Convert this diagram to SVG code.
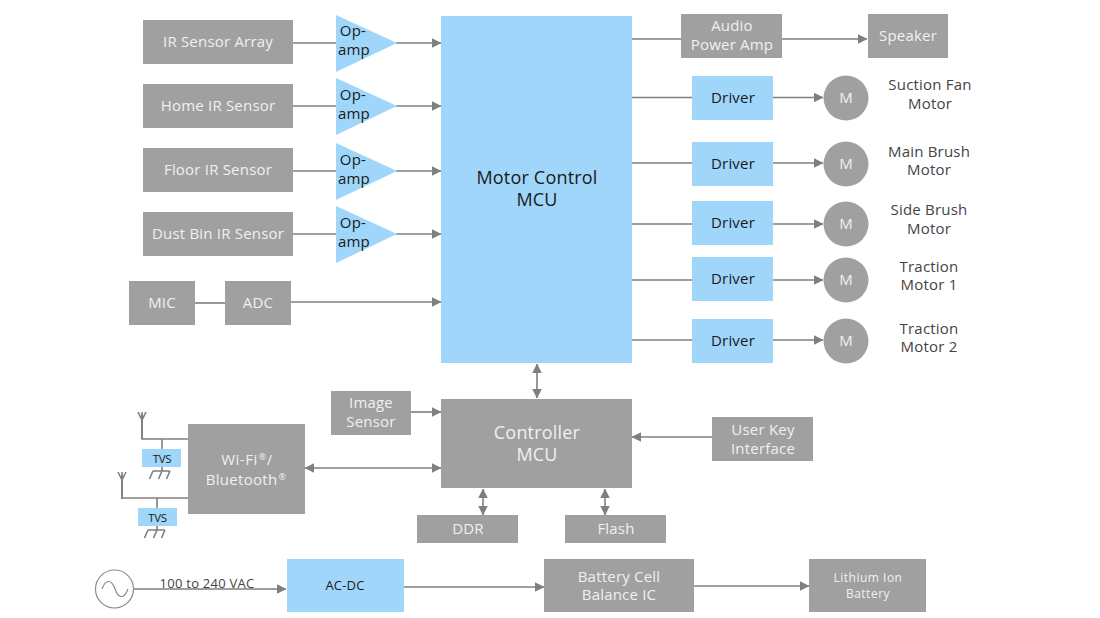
<svg xmlns="http://www.w3.org/2000/svg" width="1100" height="618" viewBox="0 0 1100 618">
<style>
text{font-family:"Open Sans","Noto Sans","Liberation Sans",sans-serif;text-anchor:middle;letter-spacing:.2px}
.g{fill:#a0a0a0}.b{fill:#9fd6fa}
.gt{fill:#f0f0f0;font-size:15px}.bt{fill:#1a1a1a;font-size:15px}.dt{fill:#444;font-size:15px}
.c{stroke:#7f7f7f;stroke-width:1.6;fill:none}
</style>
<defs>
<marker id="a" viewBox="0 0 10 10" refX="9.5" refY="5" markerWidth="9.500" markerHeight="9.500" markerUnits="userSpaceOnUse" orient="auto-start-reverse"><path d="M0 0L10 5L0 10Z" fill="#7f7f7f"/></marker>
<g id="gnd"><path class="c" d="M0 0V4M-9 4H8M-9 4L-12.500 12M0 4L-3.500 12M8 4L4.500 12" stroke-width="1.300"/></g>
<g id="ant"><path class="c" d="M0 0V-27M-4 -27L0 -19L4 -27"/></g>
</defs>
<g id="connectors">
<path class="c" d="M293 43H337"/><path class="c" d="M396 43H441" marker-end="url(#a)"/>
<path class="c" d="M293 106H337"/><path class="c" d="M396 106H441" marker-end="url(#a)"/>
<path class="c" d="M293 171H337"/><path class="c" d="M396 171H441" marker-end="url(#a)"/>
<path class="c" d="M293 234H337"/><path class="c" d="M396 234H441" marker-end="url(#a)"/>
<path class="c" d="M195 303H225"/><path class="c" d="M291 302H441" marker-end="url(#a)"/>
<path class="c" d="M632 39H681"/><path class="c" d="M782 39H867" marker-end="url(#a)"/>
<path class="c" d="M632 97.500H692"/><path class="c" d="M773 97.500H823" marker-end="url(#a)"/>
<path class="c" d="M632 163H692"/><path class="c" d="M773 163H823" marker-end="url(#a)"/>
<path class="c" d="M632 224H692"/><path class="c" d="M773 224H823" marker-end="url(#a)"/>
<path class="c" d="M632 280H692"/><path class="c" d="M773 280H823" marker-end="url(#a)"/>
<path class="c" d="M632 340H692"/><path class="c" d="M773 340H823" marker-end="url(#a)"/>
<path class="c" d="M537 364V398" marker-start="url(#a)" marker-end="url(#a)"/>
<path class="c" d="M411 412H441" marker-end="url(#a)"/>
<path class="c" d="M712 437H632" marker-end="url(#a)"/>
<path class="c" d="M305 468H441" marker-start="url(#a)" marker-end="url(#a)"/>
<path class="c" d="M483 489V515" marker-start="url(#a)" marker-end="url(#a)"/>
<path class="c" d="M605 489V515" marker-start="url(#a)" marker-end="url(#a)"/>
<path class="c" d="M134 589H286" marker-end="url(#a)"/>
<path class="c" d="M404 587H544" marker-end="url(#a)"/>
<path class="c" d="M694 586H809" marker-end="url(#a)"/>
<path class="c" d="M188 439H142V414"/><path class="c" d="M162 439V449"/>
<path class="c" d="M188 498H122V475"/><path class="c" d="M157 498V508"/>
<use href="#ant" x="142" y="439"/><use href="#ant" x="122" y="499"/>
<use href="#gnd" x="162" y="467"/><use href="#gnd" x="157" y="526"/>
</g>
<g id="ir-array"><rect class="g" x="143" y="20" width="150" height="44"/><text class="gt" x="218" y="47">IR Sensor Array</text></g>
<g id="home-ir"><rect class="g" x="143" y="84" width="150" height="44"/><text class="gt" x="218" y="111">Home IR Sensor</text></g>
<g id="floor-ir"><rect class="g" x="143" y="148" width="150" height="44"/><text class="gt" x="218" y="175">Floor IR Sensor</text></g>
<g id="dust-ir"><rect class="g" x="143" y="212" width="150" height="44"/><text class="gt" x="218" y="239">Dust Bin IR Sensor</text></g>
<g id="opamp1"><path class="b" d="M336 15L397 43L336 72Z"/><text class="bt" x="353" y="36">Op-</text><text class="bt" x="354" y="55">amp</text></g>
<g id="opamp2"><path class="b" d="M336 78L397 106L336 135Z"/><text class="bt" x="353" y="100">Op-</text><text class="bt" x="354" y="119">amp</text></g>
<g id="opamp3"><path class="b" d="M336 143L397 171L336 200Z"/><text class="bt" x="353" y="165">Op-</text><text class="bt" x="354" y="184">amp</text></g>
<g id="opamp4"><path class="b" d="M336 206L397 234L336 263Z"/><text class="bt" x="353" y="228">Op-</text><text class="bt" x="354" y="247">amp</text></g>
<g id="mic"><rect class="g" x="129" y="281" width="66" height="44"/><text class="gt" x="162" y="308">MIC</text></g>
<g id="adc"><rect class="g" x="225" y="281" width="66" height="44"/><text class="gt" x="258" y="308">ADC</text></g>
<g id="motor-mcu"><rect class="b" x="441" y="16" width="191" height="347"/><text class="bt" x="537" y="184" style="font-size:18px">Motor Control</text><text class="bt" x="537" y="206" style="font-size:18px">MCU</text></g>
<g id="audio-amp"><rect class="g" x="681" y="14" width="101" height="44"/><text class="gt" x="732" y="31">Audio</text><text class="gt" x="732" y="50">Power Amp</text></g>
<g id="speaker"><rect class="g" x="868" y="14" width="80" height="44"/><text class="gt" x="908" y="41">Speaker</text></g>
<g id="drv1"><rect class="b" x="692" y="76" width="81" height="44"/><text class="bt" x="733" y="103">Driver</text></g>
<g id="drv2"><rect class="b" x="692" y="142" width="81" height="44"/><text class="bt" x="733" y="169">Driver</text></g>
<g id="drv3"><rect class="b" x="692" y="201" width="81" height="44"/><text class="bt" x="733" y="228">Driver</text></g>
<g id="drv4"><rect class="b" x="692" y="257" width="81" height="44"/><text class="bt" x="733" y="284">Driver</text></g>
<g id="drv5"><rect class="b" x="692" y="319" width="81" height="44"/><text class="bt" x="733" y="346">Driver</text></g>
<g id="m1"><circle class="g" cx="846" cy="98" r="22.500"/><text class="gt" x="846" y="103">M</text></g>
<g id="m2"><circle class="g" cx="846" cy="164" r="22.500"/><text class="gt" x="846" y="169">M</text></g>
<g id="m3"><circle class="g" cx="846" cy="224" r="22.500"/><text class="gt" x="846" y="229">M</text></g>
<g id="m4"><circle class="g" cx="846" cy="280" r="22.500"/><text class="gt" x="846" y="285">M</text></g>
<g id="m5"><circle class="g" cx="846" cy="341" r="22.500"/><text class="gt" x="846" y="346">M</text></g>
<g id="lab1"><text class="dt" x="930" y="90">Suction Fan</text><text class="dt" x="930" y="108.500">Motor</text></g>
<g id="lab2"><text class="dt" x="929" y="156.500">Main Brush</text><text class="dt" x="929" y="175">Motor</text></g>
<g id="lab3"><text class="dt" x="929" y="214.500">Side Brush</text><text class="dt" x="929" y="233.500">Motor</text></g>
<g id="lab4"><text class="dt" x="929" y="271.500">Traction</text><text class="dt" x="929" y="290">Motor 1</text></g>
<g id="lab5"><text class="dt" x="929" y="333.500">Traction</text><text class="dt" x="929" y="352">Motor 2</text></g>
<g id="image-sensor"><rect class="g" x="331" y="391" width="80" height="44"/><text class="gt" x="371" y="408">Image</text><text class="gt" x="371" y="427">Sensor</text></g>
<g id="ctrl-mcu"><rect class="g" x="441" y="399" width="191" height="89"/><text class="gt" x="537" y="439" style="font-size:18px">Controller</text><text class="gt" x="537" y="461" style="font-size:18px">MCU</text></g>
<g id="user-key"><rect class="g" x="712" y="417" width="101" height="44"/><text class="gt" x="763" y="434.500">User Key</text><text class="gt" x="763" y="454">Interface</text></g>
<g id="wifi"><rect class="g" x="188" y="424" width="117" height="90"/><text class="gt" x="247" y="464.500" style="letter-spacing:.5px">Wi-Fi<tspan dx="1" dy="-5" font-size="9">®</tspan><tspan dy="5">/</tspan></text><text class="gt" x="246" y="484.500" style="letter-spacing:.3px">Bluetooth<tspan dx="1" dy="-5" font-size="9">®</tspan></text></g>
<g id="tvs1"><rect class="b" x="142" y="449" width="39" height="18"/><text class="bt" x="162" y="463" style="font-size:11.500px;letter-spacing:-.3px">TVS</text></g>
<g id="tvs2"><rect class="b" x="138" y="508" width="39" height="18"/><text class="bt" x="157.500" y="521.500" style="font-size:11.500px;letter-spacing:-.3px">TVS</text></g>
<g id="ddr"><rect class="g" x="417" y="515" width="101" height="28"/><text class="gt" x="468" y="534">DDR</text></g>
<g id="flash"><rect class="g" x="565" y="515" width="101" height="28"/><text class="gt" x="616" y="534">Flash</text></g>
<g id="source"><circle cx="114.500" cy="589" r="19" fill="#fff" stroke="#8a8a8a" stroke-width="1.200"/><path d="M102 589C106 578 112 580 115 589S124 600 128 589" fill="none" stroke="#8a8a8a" stroke-width="1.200"/></g>
<text class="dt" x="207" y="587.500" style="font-size:13px;letter-spacing:.25px">100 to 240 VAC</text>
<g id="acdc"><rect class="b" x="287" y="559" width="117" height="53"/><text class="bt" x="345" y="590" style="font-size:13px">AC-DC</text></g>
<g id="balance"><rect class="g" x="544" y="559" width="150" height="53"/><text class="gt" x="619" y="581.500">Battery Cell</text><text class="gt" x="619" y="600">Balance IC</text></g>
<g id="battery"><rect class="g" x="809" y="559" width="117" height="53"/><text class="gt" x="868" y="581.500" style="font-size:12px;letter-spacing:.5px">Lithium Ion</text><text class="gt" x="868" y="598" style="font-size:12px;letter-spacing:.5px">Battery</text></g>
</svg>
